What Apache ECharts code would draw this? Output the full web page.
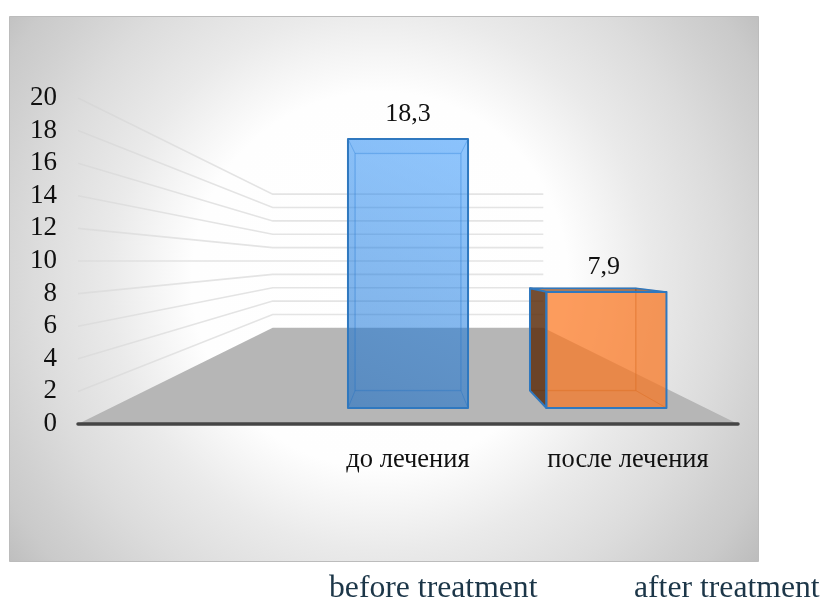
<!DOCTYPE html>
<html>
<head>
<meta charset="utf-8">
<style>html,body{margin:0;padding:0;background:#fff}#chart{width:824px;height:599px}</style>
<script src="https://cdn.jsdelivr.net/npm/echarts@6/dist/echarts.min.js"></script>
</head>
<body>
<div id="chart"></div>
<script>
// Treatment comparison, drawn as a perspective column chart.
const categories = ['', 'до лечения', 'после лечения'];
const values = [null, 18.3, 7.9];
const yTicks = [2, 4, 6, 8, 10, 12, 14, 16, 18, 20];
const englishLabels = ['before treatment', 'after treatment'];

const SERIF = '"Liberation Serif","Times New Roman",serif';
const WALL_DEPTH = 0.41;   // scale of the back wall relative to the front plane
const BAR_FRONT = 0.902;   // scale of a column's front face
const BAR_BACK = 0.795;    // scale of a column's back face
const HORIZON = 10;        // axis value level with the eye line
const BAR_RATIO = 0.605;   // column width as a share of the category band

const barStyles = [
  null,
  {
    front: new echarts.graphic.LinearGradient(1, 0, 0, 1, [
      { offset: 0, color: 'rgba(38,145,255,0.44)' },
      { offset: 1, color: 'rgba(10,100,195,0.48)' }
    ]),
    back: 'rgba(30,130,240,0.12)',
    left: 'rgba(30,120,220,0.15)',
    right: 'rgba(30,130,235,0.13)',
    top: 'rgba(30,125,230,0.16)',
    bottom: 'rgba(30,120,220,0.14)',
    edge: '#2f78bf',
    inner: 'rgba(46,117,190,0.2)'
  },
  {
    front: 'rgba(251,119,34,0.70)',
    back: 'rgba(251,119,34,0.10)',
    left: 'rgba(90,46,15,0.84)',
    right: 'rgba(190,100,40,0.12)',
    top: 'rgba(120,60,20,0.65)',
    bottom: 'rgba(190,100,40,0.08)',
    edge: '#2f78bf',
    inner: 'rgba(150,85,40,0.3)'
  }
];

// Shrinks a front-plane point toward the vanishing point.
function projector(api, params) {
  const cs = params.coordSys;
  const vx = cs.x + cs.width / 2;
  const vy = api.coord([0, HORIZON])[1];
  return (p, k) => [vx + (p[0] - vx) * k, vy + (p[1] - vy) * k];
}

function renderGridLine(params, api) {
  const project = projector(api, params);
  const cs = params.coordSys;
  const y = api.coord([0, api.value(1)])[1];
  const a = [cs.x, y];
  const b = [cs.x + cs.width, y];
  const backA = project(a, WALL_DEPTH);
  const backB = project(b, WALL_DEPTH);
  return {
    type: 'polyline',
    shape: { points: [a, backA, backB] },
    style: {
      fill: null,
      lineWidth: 1.6,
      stroke: new echarts.graphic.LinearGradient(a[0], 0, backA[0], 0, [
        { offset: 0, color: 'rgba(205,205,205,0.35)' },
        { offset: 1, color: '#e4e4e4' }
      ], true)
    }
  };
}

function renderFloor(params, api) {
  const project = projector(api, params);
  const cs = params.coordSys;
  const y = api.coord([0, 0])[1];
  const a = [cs.x, y];
  const b = [cs.x + cs.width, y];
  return {
    type: 'polygon',
    shape: { points: [a, project(a, WALL_DEPTH), project(b, WALL_DEPTH), b] },
    style: { fill: '#b6b6b6' }
  };
}

function renderBar(params, api) {
  const project = projector(api, params);
  const idx = api.value(0);
  const value = api.value(1);
  const s = barStyles[idx];
  const centre = api.coord([idx, 0])[0];
  const half = api.size([1, 0])[0] * BAR_RATIO / 2;
  const y0 = api.coord([idx, 0])[1];
  const y1 = api.coord([idx, value])[1];
  const corners = k => ({
    bl: project([centre - half, y0], k),
    br: project([centre + half, y0], k),
    tl: project([centre - half, y1], k),
    tr: project([centre + half, y1], k)
  });
  const f = corners(BAR_FRONT);
  const b = corners(BAR_BACK);
  const face = (pts, fill, stroke, width) => ({
    type: 'polygon',
    shape: { points: pts },
    style: { fill: fill, stroke: stroke || null, lineWidth: width || 0, lineJoin: 'round' }
  });
  const label = project([centre, y1], BAR_FRONT - 0.012);
  const outerLeft = b.bl[0] < f.bl[0] - 3;
  return {
    type: 'group',
    children: [
      face([b.tl, b.tr, b.br, b.bl], s.back, s.inner, 1.5),
      face([b.tr, f.tr, f.br, b.br], s.right, s.inner, 1),
      face([b.bl, b.br, f.br, f.bl], s.bottom, s.inner, 1),
      face([b.tl, b.tr, f.tr, f.tl], s.top, outerLeft ? s.edge : s.inner, outerLeft ? 1.5 : 1),
      face([b.tl, f.tl, f.bl, b.bl], s.left, outerLeft ? s.edge : s.inner, outerLeft ? 2 : 1),
      face([f.tl, f.tr, f.br, f.bl], s.front, s.edge, 2),
      {
        type: 'text',
        style: {
          x: label[0],
          y: f.tl[1] - 25,
          text: String(value).replace('.', ','),
          font: '26px ' + SERIF,
          fill: '#111',
          align: 'center',
          verticalAlign: 'middle'
        }
      }
    ]
  };
}

const chart = echarts.init(document.getElementById('chart'), null, { renderer: 'canvas' });
chart.setOption({
  animation: false,
  backgroundColor: '#fff',
  graphic: [
    {
      type: 'rect',
      z: -10,
      silent: true,
      shape: { x: 9.5, y: 16.5, width: 749, height: 545 },
      style: {
        stroke: '#bcbcbc',
        lineWidth: 1,
        fill: new echarts.graphic.RadialGradient(380, 280, 470, [
          { offset: 0, color: '#ffffff' },
          { offset: 0.40, color: '#fefefe' },
          { offset: 0.48, color: '#f5f5f5' },
          { offset: 0.575, color: '#eaeaea' },
          { offset: 0.735, color: '#dcdcdc' },
          { offset: 0.85, color: '#d0d0d0' },
          { offset: 0.915, color: '#cacaca' },
          { offset: 1, color: '#bdbdbd' }
        ], true)
      }
    },
    {
      type: 'text',
      left: 329,
      top: 573,
      style: { text: englishLabels[0], font: '31.7px ' + SERIF, fill: '#1c3648' }
    },
    {
      type: 'text',
      left: 634,
      top: 573,
      style: { text: englishLabels[1], font: '31.7px ' + SERIF, fill: '#1c3648' }
    }
  ],
  grid: { left: 78, top: 98, width: 660, height: 326, containLabel: false },
  xAxis: {
    type: 'category',
    data: categories,
    z: 5,
    axisLine: { show: true, lineStyle: { color: '#454545', width: 3.5, cap: 'round' } },
    axisTick: { show: false },
    axisLabel: { margin: 23, fontFamily: SERIF, fontSize: 26.5, color: '#111', interval: 0 },
    splitLine: { show: false }
  },
  yAxis: {
    type: 'value',
    min: 0,
    max: 20,
    interval: 2,
    axisLine: { show: false },
    axisTick: { show: false },
    axisLabel: { margin: 21, fontFamily: SERIF, fontSize: 27, color: '#111', showMinLabel: true, showMaxLabel: true },
    splitLine: { show: false }
  },
  series: [
    {
      type: 'custom',
      z: 1,
      silent: true,
      renderItem: renderGridLine,
      data: yTicks.map(v => [0, v]),
      clip: false
    },
    {
      type: 'custom',
      z: 2,
      silent: true,
      renderItem: renderFloor,
      data: [[0, 0]],
      clip: false
    },
    {
      type: 'custom',
      z: 3,
      renderItem: renderBar,
      data: values.map((v, i) => [i, v]).filter(d => d[1] !== null),
      clip: false
    }
  ]
});
</script>
</body>
</html>
